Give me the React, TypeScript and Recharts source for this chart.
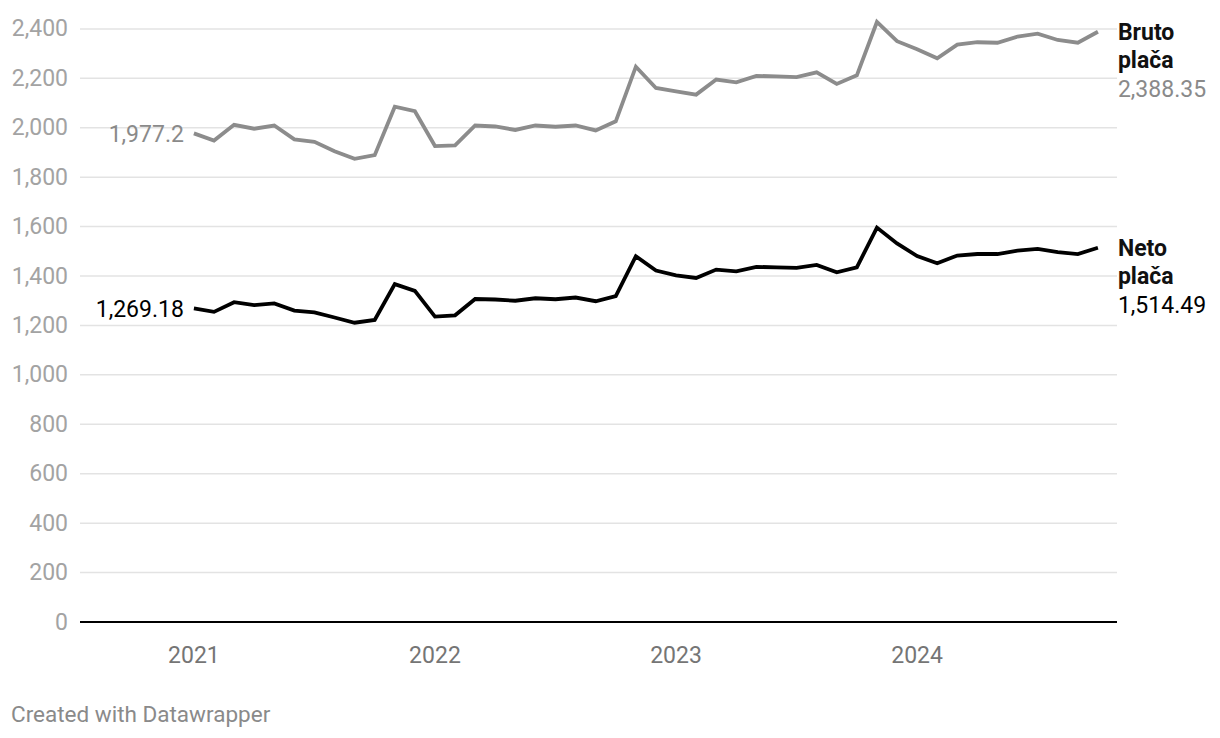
import React from 'react';
import {
  LineChart,
  Line,
  XAxis,
  YAxis,
  ReferenceLine,
  LabelList,
} from 'recharts';

// Monthly gross and net salary, Jan 2021 - Oct 2024
const brutoValues = [
  1977.2, 1948, 2012, 1996, 2009, 1953, 1943, 1905, 1874, 1889, 2085, 2067,
  1926, 1929, 2009, 2005, 1991, 2009, 2004, 2009, 1989, 2026, 2247, 2161,
  2147, 2134, 2195, 2184, 2210, 2208, 2205, 2224, 2177, 2212, 2428, 2350,
  2318, 2281, 2336, 2346, 2344, 2369, 2381, 2355, 2344, 2388.35,
];

const netoValues = [
  1269.18, 1255, 1294, 1282, 1289, 1260, 1253, 1232, 1211, 1222, 1367, 1340,
  1236, 1241, 1307, 1305, 1300, 1310, 1306, 1313, 1298, 1319, 1480, 1422,
  1403, 1392, 1426, 1419, 1437, 1435, 1433, 1445, 1415, 1435, 1596, 1532,
  1481, 1452, 1483, 1489, 1489, 1503, 1510, 1497, 1489, 1514.49,
];

const yearTicks = ['2021', '2022', '2023', '2024'];
const yTicks = [0, 200, 400, 600, 800, 1000, 1200, 1400, 1600, 1800, 2000, 2200, 2400];

const chartData = brutoValues.map((b, i) => ({ i, bruto: b, neto: netoValues[i] }));
const lastIndex = chartData.length - 1;

const FONT = 'Roboto, "Noto Sans", sans-serif';
const fmt = (v: number) =>
  v.toLocaleString('en-US', { maximumFractionDigits: 2 });

function YTick(props: any) {
  const { y, payload } = props;
  return (
    <text x={68} y={y} textAnchor="end" dominantBaseline="central" fill="#a3a3a3" fontSize={23} fontFamily={FONT}>
      {fmt(payload.value)}
    </text>
  );
}

function XTick(props: any) {
  const { x, y, payload } = props;
  return (
    <text x={x} y={y + 25} textAnchor="middle" dominantBaseline="central" fill="#757575" fontSize={23} fontFamily={FONT}>
      {yearTicks[payload.value / 12]}
    </text>
  );
}

function makeEndLabel(name: string, color: string, valueColor: string) {
  return function EndLabel(props: any) {
    const { x, y, index, value } = props;
    if (index === 0) {
      return (
        <text x={x - 10} y={y + 1} textAnchor="end" dominantBaseline="central" fill={valueColor} fontSize={23} fontFamily={FONT}>
          {fmt(value)}
        </text>
      );
    }
    if (index === lastIndex) {
      const [first, second] = name.split(' ');
      return (
        <g fontFamily={FONT} fontSize={23}>
          <text x={x + 20} y={y + 1} dominantBaseline="central" fill={color} fontWeight="bold">{first}</text>
          <text x={x + 20} y={y + 29} dominantBaseline="central" fill={color} fontWeight="bold">{second}</text>
          <text x={x + 20} y={y + 58} dominantBaseline="central" fill={valueColor}>{fmt(value)}</text>
        </g>
      );
    }
    return null;
  };
}

export default function App(): JSX.Element {
  return (
    <div style={{ position: 'absolute', left: 0, top: 0, width: 1220, height: 738, background: '#fff' }}>
      <LineChart
        width={1220}
        height={738}
        data={chartData}
        margin={{ top: 19, right: 103, left: 0, bottom: 76 }}
      >
        {/* horizontal grid at the tick values only */}
        {yTicks.slice(1).map((t) => (
          <ReferenceLine key={t} y={t} stroke="#e3e3e3" strokeWidth={1.5} />
        ))}
        <XAxis
          dataKey="i"
          type="number"
          domain={[-5.67, 45.95]}
          ticks={[0, 12, 24, 36]}
          height={40}
          axisLine={{ stroke: '#000', strokeWidth: 2 }}
          tickLine={false}
          tick={<XTick />}
          allowDataOverflow
        />
        <YAxis
          width={80}
          domain={[0, 2440]}
          ticks={yTicks}
          axisLine={false}
          tickLine={false}
          tick={<YTick />}
        />
        <Line
          dataKey="bruto"
          stroke="#8c8c8c"
          strokeWidth={3.8}
          dot={false}
          isAnimationActive={false}
        >
          <LabelList dataKey="bruto" content={makeEndLabel('Bruto plača', '#111', '#8a8a8a')} />
        </Line>
        <Line
          dataKey="neto"
          stroke="#000"
          strokeWidth={3.8}
          dot={false}
          isAnimationActive={false}
        >
          <LabelList dataKey="neto" content={makeEndLabel('Neto plača', '#111', '#000')} />
        </Line>
      </LineChart>
      <div style={{ position: 'absolute', left: 11, top: 701, fontFamily: FONT, fontSize: 22.5, color: '#8a8a8a' }}>
        Created with Datawrapper
      </div>
    </div>
  );
}
